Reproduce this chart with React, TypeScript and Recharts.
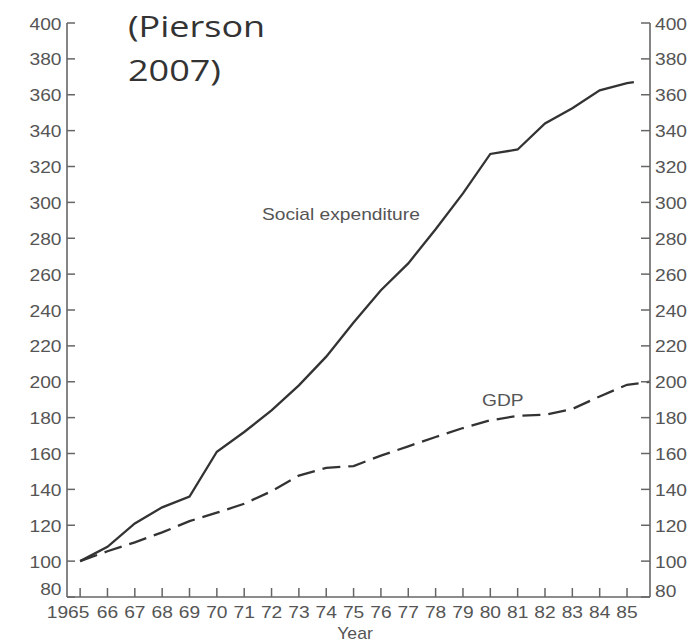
import React from "react";
import { LineChart, Line, XAxis, YAxis } from "recharts";

// values (index 1965 = 100)
const years = [1965, 1966, 1967, 1968, 1969, 1970, 1971, 1972, 1973, 1974, 1975, 1976, 1977, 1978, 1979, 1980, 1981, 1982, 1983, 1984, 1985];
const socialExpenditure = [100, 108, 121, 130, 136, 161, 172, 184, 198, 214, 233, 251, 266, 285, 305, 327, 329.5, 344, 352.5, 362.5, 366.5];
const gdp = [100, 105.5, 110.5, 116, 122.3, 127, 132, 139, 147.7, 152, 153, 158.8, 164, 169.2, 174.2, 178.5, 181, 181.6, 184.8, 191.8, 198.3];

// where each line runs out at the right edge
const socialEnd = { year: 1985.25, value: 367 };
const gdpEnd = { year: 1985.84, value: 200 };

const yTicks = [80, 100, 120, 140, 160, 180, 200, 220, 240, 260, 280, 300, 320, 340, 360, 380, 400];
const yearLabels = ["1965", "66", "67", "68", "69", "70", "71", "72", "73", "74", "75", "76", "77", "78", "79", "80", "81", "82", "83", "84", "85"];

const socialData = [...years.map((year, i) => ({ year, value: socialExpenditure[i] })), socialEnd];
const gdpData = [...years.map((year, i) => ({ year, value: gdp[i] })), gdpEnd];

const axisColor = "#666";
const textColor = "#555";
const lineColor = "#333";
const font = "'Liberation Sans', Arial, sans-serif";

// tick text only; tick marks come from tickLine with a negative tickSize (drawn inward)
const LeftTick = (props: any) => {
  const { x, y, payload } = props;
  const v = payload.value;
  const ty = v === 80 ? y - 9 : y;
  return (
    <text
      transform={`translate(${x},${ty + 6.5}) scale(1.2,1)`}
      textAnchor="end"
      fontSize={16}
      fontFamily={font}
      fill={textColor}
    >
      {v}
    </text>
  );
};

const RightTick = (props: any) => {
  const { x, y, payload } = props;
  const v = payload.value;
  const ty = v === 80 ? y - 7 : y;
  return (
    <text
      transform={`translate(${x},${ty + 6.5}) scale(1.2,1)`}
      textAnchor="start"
      fontSize={16}
      fontFamily={font}
      fill={textColor}
    >
      {v}
    </text>
  );
};

const YearTick = (props: any) => {
  const { x, y, payload, index } = props;
  const label = yearLabels[index] ?? String(payload.value);
  const tx = index === 0 ? x - 12 : x;
  return (
    <text
      transform={`translate(${tx},${y + 21}) scale(1.2,1)`}
      textAnchor="middle"
      fontSize={16}
      fontFamily={font}
      fill={textColor}
    >
      {label}
    </text>
  );
};

const axisLine = { stroke: axisColor, strokeWidth: 1.6 };
const tickLine = { stroke: axisColor, strokeWidth: 1.5 };

export default function App() {
  return (
    <div style={{ position: "absolute", left: 0, top: 0, width: 688, height: 644, background: "#fff" }}>
      <LineChart width={688} height={644} margin={{ top: 23, right: 0, bottom: 7, left: 0 }}>
        <XAxis
          type="number"
          dataKey="year"
          domain={[1964.52, 1985.84]}
          ticks={years}
          allowDataOverflow
          height={40}
          tickSize={-9}
          tickMargin={9}
          tickLine={tickLine}
          axisLine={axisLine}
          tick={<YearTick />}
          interval={0}
        />
        <YAxis
          yAxisId="left"
          orientation="left"
          domain={[80, 400]}
          ticks={yTicks}
          width={67}
          tickSize={-8}
          tickMargin={13.5}
          tickLine={tickLine}
          axisLine={axisLine}
          tick={<LeftTick />}
          interval={0}
        />
        <YAxis
          yAxisId="right"
          orientation="right"
          domain={[80, 400]}
          ticks={yTicks}
          width={38}
          tickSize={-9}
          tickMargin={14}
          tickLine={tickLine}
          axisLine={axisLine}
          tick={<RightTick />}
          interval={0}
        />
        <Line
          yAxisId="left"
          data={socialData}
          dataKey="value"
          type="linear"
          stroke={lineColor}
          strokeWidth={2.3}
          dot={false}
          isAnimationActive={false}
        />
        <Line
          yAxisId="right"
          data={gdpData}
          dataKey="value"
          type="linear"
          stroke={lineColor}
          strokeWidth={2.3}
          strokeDasharray="18 8"
          dot={false}
          isAnimationActive={false}
        />
      </LineChart>
      <svg width={688} height={644} style={{ position: "absolute", left: 0, top: 0, pointerEvents: "none" }}>
        <g fontFamily={font} fill={textColor} fontSize={16}>
          <text transform="translate(262,220) scale(1.2,1)">Social expenditure</text>
          <text transform="translate(482,406) scale(1.2,1)">GDP</text>
          <text transform="translate(355,639) scale(1.1,1)" textAnchor="middle">Year</text>
        </g>
        <g fontFamily="'Open Sans', 'Noto Sans', sans-serif" fill="#333" fontSize={30}>
          <text transform="translate(128,37) scale(1.2,1)">(Pierson</text>
          <text transform="translate(128,81) scale(1.2,1)">2007)</text>
        </g>
      </svg>
    </div>
  );
}
